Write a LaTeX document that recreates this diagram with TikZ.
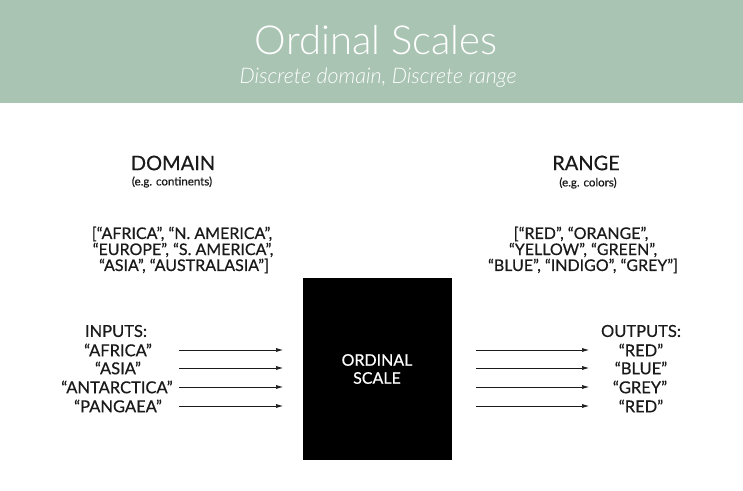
\documentclass[tikz,border=0pt]{standalone}
\usepackage{fontspec}
\setmainfont{Lato}[UprightFeatures={FakeBold=0.5}]
\newfontfamily\thinfont{Lato Light}
\usetikzlibrary{arrows.meta}
\definecolor{band}{HTML}{A9C4B3}
\definecolor{ink}{HTML}{1A1A1A}
\tikzset{
  txt/.style={inner sep=0pt, text=ink, align=center},
  big/.style={txt, font=\fontsize{20}{21}\selectfont},
  small/.style={txt, font=\fontsize{11.5}{12}\selectfont},
  lst/.style={txt, font=\fontsize{16}{16}\selectfont},
  io/.style={txt, font=\fontsize{16.5}{18}\selectfont},
  arr/.style={draw=ink, line width=0.6pt, -{Latex[length=7pt,width=4pt]}}
}
\begin{document}
\begin{tikzpicture}[x=1pt,y=-1pt]
\useasboundingbox (0,0) rectangle (743,490);
\fill[white] (0,0) rectangle (743,490);
\fill[band] (0,0) rectangle (743,103);
\node[inner sep=0pt, text=white, font=\thinfont\fontsize{40}{42}\selectfont] (title) at (376,40) {Ordinal Scales};
\node[inner sep=0pt, text=white, font=\thinfont\itshape\fontsize{21.5}{23}\selectfont] (sub) at (378,78) {Discrete domain, Discrete range};

\node[big] (dom) at (173,163) {DOMAIN};
\node[small] (domeg) at (172,182) {(e.g. continents)};
\node[lst] (dl1) at (182,234) {[“AFRICA”, “N. AMERICA”,};
\node[lst] (dl2) at (183,250) {“EUROPE”, “S. AMERICA”,};
\node[lst] (dl3) at (184,266) {“ASIA”, “AUSTRALASIA”]};

\node[big] (rng) at (586,163) {RANGE};
\node[small] (rngeg) at (588,183) {(e.g. colors)};
\node[lst] (rl1) at (581,234) {[“RED”, “ORANGE”,};
\node[lst] (rl2) at (583,250) {“YELLOW”, “GREEN”,};
\node[lst] (rl3) at (583,266) {“BLUE”, “INDIGO”, “GREY”]};

\node[fill=black, minimum width=149pt, minimum height=182pt, inner sep=0pt, anchor=north west] (box) at (303,278) {};
\node[inner sep=0pt, text=white, align=center, font=\fontsize{16}{18}\selectfont] (boxlbl) at (377,369) {ORDINAL\\SCALE};

\node[io] (inp) at (116,331) {INPUTS:};
\node[io] (i1) at (118,350) {“AFRICA”};
\node[io] (i2) at (118,368) {“ASIA”};
\node[io] (i3) at (117,387) {“ANTARCTICA”};
\node[io] (i4) at (118,406) {“PANGAEA”};

\node[io] (outp) at (641,331) {OUTPUTS:};
\node[io] (o1) at (641,350) {“RED”};
\node[io] (o2) at (641,368) {“BLUE”};
\node[io] (o3) at (640,387) {“GREY”};
\node[io] (o4) at (641,406) {“RED”};

\foreach \i/\y in {1/350,2/368,3/387,4/406}{
  \coordinate (ia\i) at (179,\y);
  \coordinate (ib\i) at (283,\y);
  \coordinate (oa\i) at (476,\y);
  \coordinate (ob\i) at (589,\y);
  \draw[arr] (ia\i) -- (ib\i);
  \draw[arr] (oa\i) -- (ob\i);
}
\end{tikzpicture}
\end{document}
